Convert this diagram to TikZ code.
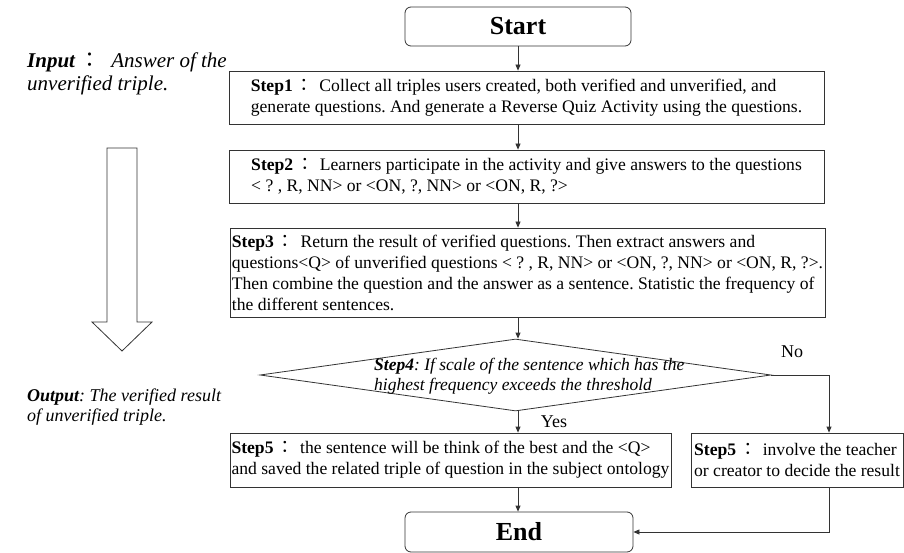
\documentclass[tikz,border=0pt]{standalone}
\usepackage{fontspec}
\setmainfont{Liberation Serif}
\newfontfamily\cjk{Noto Sans CJK TC}
\usetikzlibrary{arrows.meta,shapes.geometric}

\newcommand{\fwcolon}[1][3pt]{\hspace{#1}{\cjk\smash{：}}\hspace{6pt}}
\frenchspacing

\begin{document}
\begin{tikzpicture}[
  x=1pt, y=-1pt,
  box/.style={draw=black!80, line width=0.8pt, align=left, inner sep=0pt, minimum height=53pt, font=\fontsize{17.6}{21}\selectfont},
  term/.style={draw=black!80, line width=0.8pt, rounded corners=6pt, minimum width=226pt, minimum height=39pt, font=\fontsize{26}{30}\selectfont\bfseries},
  decision/.style={draw=black!80, line width=0.8pt, diamond, inner sep=0pt, minimum width=511pt, minimum height=72pt},
  lbl/.style={inner sep=0pt, font=\fontsize{18}{20}\selectfont},
  side/.style={align=left, anchor=west, inner sep=0pt, font=\itshape},
  flow/.style={draw=black!80, line width=0.8pt},
  >={Triangle[length=6pt,width=5pt]}
]
  \useasboundingbox (0,0) rectangle (904,553);

  % Nodes
  \node[term] (start) at (518,26.5) {Start};
  \node[box, minimum width=595pt] (step1) at (526.5,97.5)
    {\textbf{Step1}\fwcolon Collect all triples users created, both verified and unverified, and\\generate questions. And generate a Reverse Quiz Activity using the questions.};
  \node[box, minimum width=595pt] (step2) at (526.5,176.5)
    {\textbf{Step2}\fwcolon Learners participate in the activity and give answers to the questions\\< ? , R, NN> or <ON, ?, NN> or <ON, R, ?>};
  \node[box, minimum width=595pt, minimum height=89pt] (step3) at (527.5,272.5)
    {\textbf{Step3}\fwcolon Return the result of verified questions. Then extract answers and\\questions<Q> of unverified questions < ? , R, NN> or <ON, ?, NN> or <ON, R, ?>.\\Then combine the question and the answer as a sentence. Statistic the frequency of\\the different sentences.};
  \node[decision] (step4) at (515.5,375) {};
  \node[align=left, anchor=west, inner sep=0pt, font=\fontsize{17.5}{20}\selectfont\itshape] (cond) at (374,376)
    {\textbf{Step4}: If scale of the sentence which has the\\highest frequency exceeds the threshold};
  \node[box, minimum width=441pt, minimum height=54pt] (yes5) at (450.5,460)
    {\textbf{Step5}\fwcolon the sentence will be think of the best and the <Q>\\and saved the related triple of question in the subject ontology};
  \node[box, minimum width=212pt, minimum height=54pt] (no5) at (797,460)
    {\textbf{Step5}\fwcolon involve the teacher\\or creator to decide the result};
  \node[term, minimum width=228pt, minimum height=40pt] (end) at (519,532) {End};

  % Labels
  \node[lbl] (yes) at (554,422) {Yes};
  \node[lbl] (no) at (792,352) {No};
  \node[side, font=\fontsize{21}{23}\selectfont\itshape] (input) at (27,74)
    {\textbf{Input}\fwcolon[4pt] Answer of the\\unverified triple.};
  \node[side, font=\fontsize{18}{20}\selectfont\itshape] (output) at (27,407)
    {\textbf{Output}: The verified result\\of unverified triple.};

  % Hollow arrow
  \draw[flow] (107,148) -- (137,148) -- (137,322) -- (152,322) -- (122,351)
    -- (92,322) -- (107,322) -- cycle;

  % Arrows
  \draw[flow, ->] (start.south) -- (start.south |- step1.north);
  \draw[flow, ->] (start.south |- step1.south) -- (start.south |- step2.north);
  \draw[flow, ->] (start.south |- step2.south) -- (start.south |- step3.north);
  \draw[flow, ->] (start.south |- step3.south) -- (start.south |- step4.north);
  \draw[flow, ->] (start.south |- step4.south) -- (start.south |- yes5.north);
  \draw[flow, ->] (step4.east) -| ([xshift=32pt]no5.north);
  \draw[flow, ->] (start.south |- yes5.south) -- (start.south |- end.north);
  \draw[flow, ->] ([xshift=32pt]no5.south) |- (end.east);
\end{tikzpicture}
\end{document}
